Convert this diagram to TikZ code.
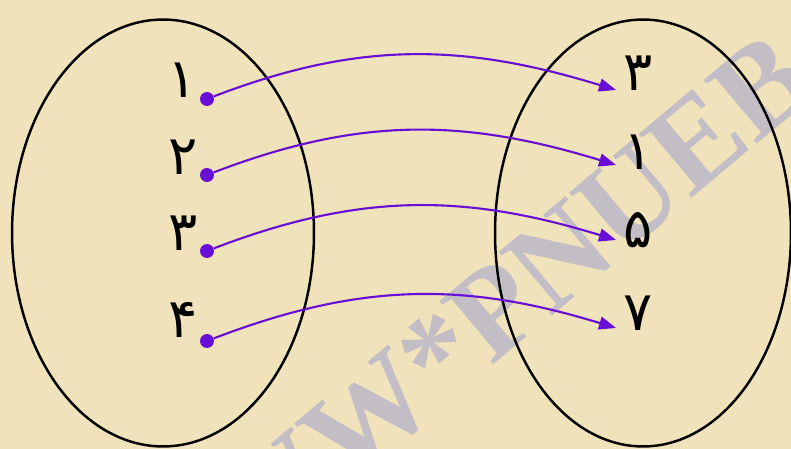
\documentclass[tikz,border=0pt]{standalone}
\usepackage{fontspec}
\usepackage{xcolor}
\usepackage{tikz}
\usetikzlibrary{shapes.geometric, arrows.meta, positioning}

\newfontfamily\persianfont[Script=Arabic]{DejaVu Sans}
\newfontfamily\markfont{Liberation Serif}

\definecolor{paper}{RGB}{240,226,186}
\definecolor{mapviolet}{RGB}{104,14,214}
\definecolor{markgray}{RGB}{184,180,202}

\begin{document}
\begin{tikzpicture}[x=0.02cm, y=-0.02cm,
    digit/.style={font=\persianfont\fontsize{31}{33}\selectfont, inner sep=0pt},
    dot/.style={circle, fill=mapviolet, inner sep=0pt, minimum size=0.28cm},
    maps/.style={-{Triangle[length=0.34cm, width=0.26cm]}, color=mapviolet, line width=1.2pt},
    setring/.style={ellipse, draw, line width=1.4pt, inner sep=0pt}]

    % BACKGROUND + WATERMARK
    \fill[paper] (0,0) rectangle (791,449);
    \useasboundingbox (0,0) rectangle (791,449);
    \begin{scope}
        \clip (0,0) rectangle (791,449);
        \node (mark) [rotate=40, text=markgray, opacity=0.8, font=\markfont\bfseries\fontsize{72}{72}\selectfont] at (460,340) {WWW*PNUEB};
    \end{scope}

    % LEFT SET
    \node (SetA) [setring, minimum width=6.04cm, minimum height=8.54cm] at (163,233) {};
    \node (l1) [digit] at (182,80) {۱};
    \node (l2) [digit] at (183,157) {۲};
    \node (l3) [digit] at (183,233) {۳};
    \node (l4) [digit] at (183,320) {۴};
    \node (a1) [dot] at (207,99) {};
    \node (a2) [dot] at (207,175) {};
    \node (a3) [dot] at (207,251) {};
    \node (a4) [dot] at (207,341) {};

    % RIGHT SET
    \node (SetB) [setring, minimum width=5.92cm, minimum height=8.54cm] at (643,233) {};
    \node (r1) [digit] at (638,73) {۳};
    \node (r2) [digit] at (638,152) {۱};
    \node (r3) [digit] at (638,230) {۵};
    \node (r4) [digit] at (638,313) {۷};
    \coordinate (b1) at (616,90);
    \coordinate (b2) at (616,165);
    \coordinate (b3) at (616,240);
    \coordinate (b4) at (616,328);

    % MAPPING
    \draw[maps] (a1) to[out=21, in=163] (b1);
    \draw[maps] (a2) to[out=21, in=163] (b2);
    \draw[maps] (a3) to[out=21, in=163] (b3);
    \draw[maps] (a4) to[out=21, in=163] (b4);
\end{tikzpicture}
\end{document}
